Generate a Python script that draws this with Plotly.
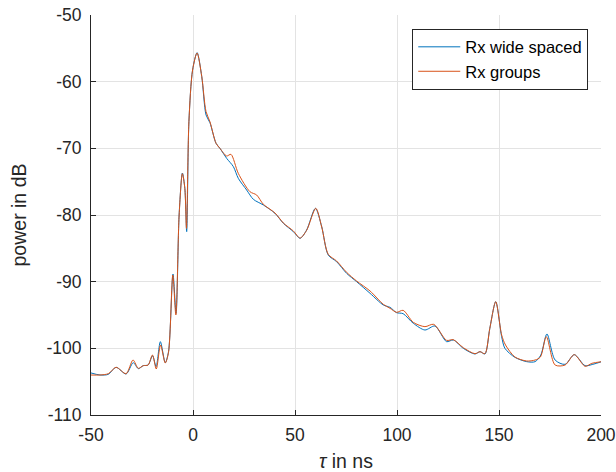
import plotly.graph_objects as go

# Blue: Rx wide spaced
tau_blue = [-50.5, -45.6, -41.5, -37.7, -32.8, -29.3, -26.8, -24.4, -22.0, -19.8, -18.1,
            -16.0, -13.6, -12.0, -9.8, -8.3, -6.8, -5.2, -4.0, -3.1, -2.0, -0.2, 2.0,
            4.3, 6.4, 8.3, 11.3, 13.2, 16.5, 19.8, 22.2, 26.3, 29.6, 34.5, 40.2, 44.3,
            49.2, 52.5, 55.7, 60.0, 63.1, 66.3, 70.4, 75.3, 80.2, 86.8, 93.3, 96.6, 99.8,
            103.0, 108.0, 113.7, 118.6, 124.3, 127.6, 132.5, 138.2, 140.7, 143.1, 145.5,
            148.4, 151.3, 152.9, 157.8, 163.6, 167.7, 170.5, 173.5, 177.5, 182.4, 186.9,
            192.2, 196.0, 200.3]
p_blue = [-103.65, -104.0, -103.9, -102.85, -103.85, -102.15, -103.05, -102.6, -102.5,
          -101.1, -102.75, -99.0, -102.15, -100.5, -88.85, -94.75, -80.0, -73.7, -76.0,
          -82.5, -66.0, -58.25, -55.65, -59.25, -65.0, -66.15, -69.25, -70.0, -71.5,
          -72.75, -74.5, -76.25, -77.65, -78.5, -79.75, -81.25, -82.5, -83.5, -82.25,
          -79.0, -81.75, -86.0, -87.0, -88.75, -90.0, -91.75, -93.5, -93.85, -94.65,
          -94.8, -96.25, -97.25, -96.65, -99.0, -98.75, -100.0, -100.85, -100.5, -100.85,
          -97.0, -93.0, -98.25, -100.0, -101.35, -102.0, -102.0, -101.0, -97.85, -101.75,
          -102.4, -100.95, -102.6, -102.4, -102.0]

# Orange: Rx groups
tau_orange = [-50.5, -45.6, -41.5, -37.7, -32.8, -29.4, -26.8, -24.4, -22.0, -19.9, -18.0,
              -15.9, -13.6, -12.0, -9.9, -8.4, -6.8, -5.2, -4.0, -3.2, -2.0, -0.2, 2.0,
              4.3, 6.4, 8.3, 11.3, 13.2, 16.5, 18.6, 22.2, 27.9, 31.2, 34.5, 40.2, 44.3,
              49.2, 52.5, 55.7, 60.2, 63.1, 66.3, 70.4, 75.3, 80.2, 86.8, 93.3, 96.6, 99.8,
              103.0, 108.0, 113.7, 118.0, 124.3, 127.6, 132.5, 138.2, 140.7, 143.1, 145.5,
              148.4, 151.3, 153.2, 157.8, 163.6, 167.7, 170.3, 173.2, 177.5, 182.4, 186.9,
              192.2, 195.5, 200.3]
p_orange = [-104.0, -104.0, -103.8, -102.85, -103.8, -101.75, -103.0, -102.6, -102.5,
            -101.0, -103.1, -99.5, -102.2, -100.6, -89.0, -95.0, -80.0, -73.8, -76.0,
            -82.0, -66.0, -58.25, -55.7, -59.25, -64.5, -66.0, -69.25, -70.0, -71.15,
            -70.9, -73.75, -76.5, -77.0, -78.4, -79.7, -81.2, -82.4, -83.45, -82.3,
            -79.0, -81.8, -85.9, -86.9, -88.6, -89.9, -91.4, -93.4, -94.0, -94.6,
            -94.3, -96.1, -96.75, -96.4, -98.8, -98.7, -99.9, -100.8, -100.5, -100.8,
            -97.0, -93.0, -98.0, -99.5, -101.3, -101.9, -101.75, -101.3, -98.25, -102.5,
            -102.5, -100.95, -102.7, -102.25, -102.0]

x_ticks = [-50, 0, 50, 100, 150, 200]
y_ticks = [-110, -100, -90, -80, -70, -60, -50]

fig = go.Figure()
fig.add_trace(go.Scatter(x=tau_blue, y=p_blue, mode="lines", name="Rx wide spaced",
                         line=dict(color="#0072BD", width=1, shape="spline", smoothing=0.8)))
fig.add_trace(go.Scatter(x=tau_orange, y=p_orange, mode="lines", name="Rx groups",
                         line=dict(color="#D95319", width=1, shape="spline", smoothing=0.8)))

font_family = "Liberation Sans, Arial, sans-serif"
fig.update_layout(
    width=616, height=472,
    margin=dict(l=91, r=15, t=15, b=57, autoexpand=False),
    paper_bgcolor="white", plot_bgcolor="white",
    font=dict(family=font_family, size=17, color="#262626"),
    showlegend=True,
    legend=dict(x=0.975, y=0.966, xanchor="right", yanchor="top",
                bgcolor="white", bordercolor="#262626", borderwidth=1,
                font=dict(size=16.5, color="#000000"), tracegroupgap=0,
                itemwidth=42),
    xaxis=dict(range=[-50, 200], tickvals=x_ticks, ticktext=[str(v) for v in x_ticks],
               showgrid=True, gridcolor="#e3e3e3", gridwidth=1, zeroline=False,
               showline=True, linecolor="#262626", linewidth=1,
               ticks="inside", ticklen=5, tickcolor="#262626", automargin=False,
               tickfont=dict(size=17.5), ticklabelstandoff=4,
               title=dict(text="<i>τ</i> in ns", standoff=12, font=dict(size=19.5)),
               mirror=False),
    yaxis=dict(range=[-110, -50], tickvals=y_ticks, ticktext=[str(v) for v in y_ticks],
               showgrid=True, gridcolor="#e3e3e3", gridwidth=1, zeroline=False,
               showline=True, linecolor="#262626", linewidth=1,
               ticks="inside", ticklen=5, tickcolor="#262626", automargin=False,
               tickfont=dict(size=17.5), ticklabelstandoff=5,
               title=dict(text="power in dB", standoff=14, font=dict(size=19.5)),
               mirror=False),
)

fig.write_html("out.html")
